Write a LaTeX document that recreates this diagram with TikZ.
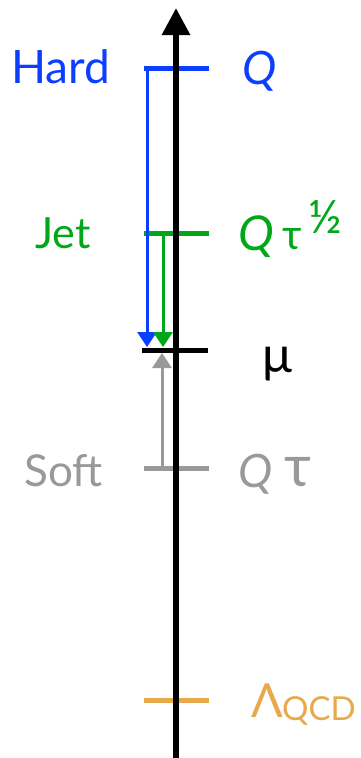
\documentclass[tikz,border=0pt]{standalone}
\usepackage{fontspec}
\setmainfont{Lato}
\usetikzlibrary{arrows.meta}
\definecolor{hardblue}{RGB}{12,62,255}
\definecolor{jetgreen}{RGB}{0,168,24}
\definecolor{softgray}{RGB}{153,153,153}
\definecolor{qcdorange}{RGB}{232,168,76}
\newcommand{\fs}[1]{\fontsize{#1}{#1}\selectfont}
\tikzset{
  tick/.style={line width=5pt},
  flow/.style={line width=3pt,-{Triangle[length=15pt,width=19pt]}},
  lbl/.style={anchor=base west,inner sep=0pt},
}
\begin{document}
\begin{tikzpicture}[x=1pt,y=-1pt]
\useasboundingbox (0,0) rectangle (360,758);
% coordinates
\coordinate (axB) at (176,758);
\coordinate (axT) at (176,8);
\coordinate (hL) at (144,68);  \coordinate (hR) at (209,68);
\coordinate (jL) at (144,233); \coordinate (jR) at (209,233);
\coordinate (mL) at (142,350); \coordinate (mR) at (208,350);
\coordinate (sL) at (144,468); \coordinate (sR) at (209,468);
\coordinate (lL) at (144,700); \coordinate (lR) at (209,700);
\coordinate (hA) at (147,68);  \coordinate (hB) at (147,347);
\coordinate (jA) at (163,233); \coordinate (jB) at (163,347);
\coordinate (sA) at (162,468); \coordinate (sB) at (162,353);
% ticks
\draw[tick,hardblue] (hL) -- (hR);
\draw[tick,jetgreen] (jL) -- (jR);
\draw[tick,black] (mL) -- (mR);
\draw[tick,softgray] (sL) -- (sR);
\draw[tick,qcdorange] (lL) -- (lR);
% flows
\draw[flow,hardblue] (hA) -- (hB);
\draw[flow,jetgreen] (jA) -- (jB);
\draw[flow,softgray] (sA) -- (sB);
% axis
\draw[line width=6pt,-{Triangle[length=27pt,width=27pt]}] (axB) -- (axT);
% labels
\node[lbl,hardblue] (hard) at (11,83) {\fs{46}Hard};
\node[lbl,hardblue] (hq) at (242,84) {\fs{46}\itshape Q};
\node[lbl,jetgreen] (jet) at (35,248) {\fs{43}Jet};
\node[lbl,jetgreen] (jq) at (238,250) {\fs{48}\itshape Q};
\node[lbl,jetgreen] (jtau) at (282,249) {\fs{42}τ};
\node[lbl,jetgreen] (jhalf) at (308,233) {\fs{46}\addfontfeature{FakeBold=0}½};
\node[lbl,black] (mu) at (262,372) {\fs{50}μ};
\node[lbl,softgray] (soft) at (24,486) {\fs{44}Soft};
\node[lbl,softgray] (sq) at (238,487) {\fs{46}\itshape Q};
\node[lbl,softgray] (stau) at (284,486) {\fs{58}τ};
\node[lbl,qcdorange] (lam) at (251,717) {\fs{47}Λ};
\node[lbl,qcdorange] (qcd) at (282,720) {\fs{33}QCD};
\end{tikzpicture}
\end{document}
